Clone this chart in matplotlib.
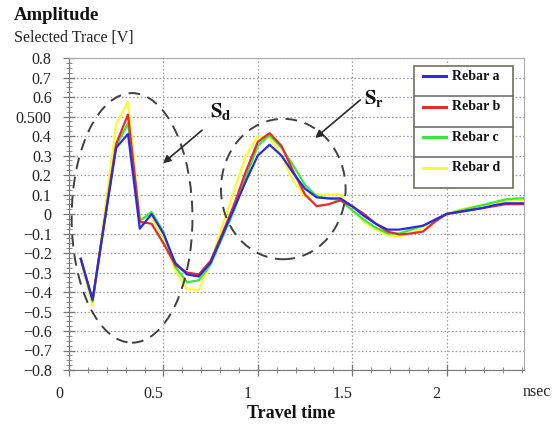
import matplotlib
matplotlib.use("Agg")
import matplotlib.pyplot as plt
import matplotlib.transforms as mtrans
from matplotlib.patches import Ellipse, Rectangle
from matplotlib.lines import Line2D
import numpy as np

plt.rcParams['font.family'] = ['Liberation Serif', 'DejaVu Serif']
plt.rcParams['mathtext.fontset'] = 'stix'

# ---------------- data ----------------
t = [0.0625, 0.125, 0.1875, 0.25, 0.3125, 0.375, 0.4375, 0.5, 0.5625, 0.625,
     0.6875, 0.75, 0.8125, 0.875, 0.9375, 1.0, 1.0625, 1.125, 1.1875, 1.25,
     1.3125, 1.375, 1.4375, 1.5, 1.5625, 1.625, 1.6875, 1.75, 1.8125, 1.875,
     1.9375, 2.0, 2.0625, 2.125, 2.1875, 2.25, 2.3125, 2.375, 2.41]

rebar_a = [-0.23, -0.44, -0.045, 0.34, 0.41, -0.075, 0.0, -0.10, -0.25, -0.31,
           -0.32, -0.25, -0.11, 0.03, 0.17, 0.30, 0.355, 0.30, 0.21, 0.13,
           0.085, 0.08, 0.08, 0.04, -0.01, -0.05, -0.08, -0.08, -0.07, -0.06,
           -0.03, 0.0, 0.01, 0.02, 0.03, 0.045, 0.055, 0.055, 0.055]
rebar_b = [-0.23, -0.44, -0.04, 0.36, 0.51, -0.04, -0.05, -0.15, -0.26, -0.30,
           -0.31, -0.24, -0.10, 0.05, 0.22, 0.37, 0.415, 0.35, 0.22, 0.10,
           0.04, 0.05, 0.07, 0.04, 0.0, -0.05, -0.09, -0.105, -0.10, -0.09,
           -0.04, 0.0, 0.01, 0.02, 0.03, 0.04, 0.05, 0.05, 0.05]
rebar_c = [-0.23, -0.45, -0.04, 0.35, 0.465, -0.035, 0.01, -0.09, -0.27, -0.35,
           -0.34, -0.26, -0.12, 0.02, 0.19, 0.35, 0.405, 0.34, 0.25, 0.15,
           0.09, 0.08, 0.07, 0.02, -0.03, -0.07, -0.10, -0.10, -0.08, -0.06,
           -0.03, 0.0, 0.015, 0.03, 0.045, 0.06, 0.075, 0.08, 0.08]
rebar_d = [-0.24, -0.47, 0.0, 0.46, 0.575, -0.02, -0.02, -0.12, -0.29, -0.385,
           -0.39, -0.25, -0.06, 0.12, 0.30, 0.40, 0.39, 0.30, 0.17, 0.09,
           0.10, 0.10, 0.10, 0.02, -0.04, -0.08, -0.11, -0.115, -0.10, -0.07,
           -0.03, 0.0, 0.02, 0.035, 0.045, 0.055, 0.065, 0.072, 0.072]

series_labels = ['Rebar a', 'Rebar b', 'Rebar c', 'Rebar d']
series_colors = ['#2a2ae6', '#e82a2a', '#3ae83a', '#fafa32']

x_ticks = [0, 0.5, 1, 1.5, 2]
x_ticklabels = ['0', '0.5', '1', '1.5', '2']
y_ticks = [0.8, 0.7, 0.6, 0.5, 0.4, 0.3, 0.2, 0.1, 0.0,
           -0.1, -0.2, -0.3, -0.4, -0.5, -0.6, -0.7, -0.8]
y_ticklabels = ['0.8', '0.7', '0.6', '0.500', '0.4', '0.3', '0.2', '0.1', '0',
                '\u22120.1', '\u22120.2', '\u22120.3', '\u22120.4', '\u22120.5',
                '\u22120.6', '\u22120.7', '\u22120.8']

# ---------------- figure ----------------
fig = plt.figure(figsize=(5.59, 4.30), dpi=100)
ax = fig.add_axes([69/559, 1-370/430, (524-69)/559, (370-58)/430])

series = [rebar_a, rebar_b, rebar_c, rebar_d]
for i in [3, 2, 1, 0]:
    ax.plot(t, series[i], color=series_colors[i], lw=1.6, zorder=3)

ax.set_xlim(0, 2.41)
ax.set_ylim(-0.8, 0.8)

ax.set_xticks(x_ticks)
ax.set_xticklabels(x_ticklabels, fontsize=11.5)
ax.set_xticks(np.arange(0, 2.41, 0.1), minor=True)
ax.set_yticks(y_ticks)
ax.set_yticklabels(y_ticklabels, fontsize=11.5)
ax.set_yticks(np.arange(-0.8, 0.801, 0.025), minor=True)

ax.tick_params(axis='both', which='major', direction='inout', length=9,
               width=0.9, color='#777777', labelcolor='#222222')
ax.tick_params(axis='both', which='minor', direction='inout', length=4,
               width=0.7, color='#888888')
ax.tick_params(axis='y', which='major', pad=8)
ax.tick_params(axis='x', which='major', pad=7)

offset = mtrans.ScaledTranslation(-10/100, 0, fig.dpi_scale_trans)
for lab in ax.get_xticklabels():
    lab.set_transform(lab.get_transform() + offset)

ax.grid(True, which='major', axis='both', linestyle=(0, (1.2, 1.8)),
        color='#999999', lw=0.9)
ax.set_axisbelow(True)
for s in ['left', 'bottom']:
    ax.spines[s].set_color('#777777')
for s in ['top', 'right']:
    ax.spines[s].set_color('#aaaaaa')

# ellipses
ell_kw = dict(fill=False, edgecolor='#404040', lw=1.4, linestyle=(0, (6, 4)), zorder=4)
ax.add_patch(Ellipse((0.334, -0.02), 0.64, 1.28, **ell_kw))
ax.add_patch(Ellipse((1.135, 0.128), 0.66, 0.72, **ell_kw))

# arrows & labels
arr = dict(arrowstyle='-|>', color='#2a2a2a', lw=1.2, mutation_scale=11,
           shrinkA=0, shrinkB=0)
ax.annotate('', xy=(0.498, 0.26), xytext=(0.705, 0.43), arrowprops=arr, zorder=5)
ax.annotate('', xy=(1.304, 0.39), xytext=(1.543, 0.585), arrowprops=arr, zorder=5)
ax.text(0.745, 0.525, r'$\mathbf{S_d}$', fontsize=15, ha='left', va='center',
        color='#111111')
ax.text(1.565, 0.59, r'$\mathbf{S_r}$', fontsize=15, ha='left', va='center',
        color='#111111')

# legend (boxed entries with separators)
lx0, lx1 = (414-69)/455, (513-69)/455
ly_top, ly_bot = (370-66)/312, (370-188)/312
ax.add_patch(Rectangle((lx0, ly_bot), lx1-lx0, ly_top-ly_bot, transform=ax.transAxes,
                       facecolor='white', edgecolor='#6f6f5a', lw=1.2, zorder=6))
row_h = (ly_top - ly_bot) / 4
for k in range(1, 4):
    yy = ly_top - k*row_h
    ax.add_line(Line2D([lx0, lx1], [yy, yy], transform=ax.transAxes,
                       color='#6f6f6f', lw=1.2, zorder=7))
for k in range(4):
    yc = ly_top - k*row_h - row_h*0.33
    ax.add_line(Line2D([(423-69)/455, (446-69)/455], [yc, yc], transform=ax.transAxes,
                       color=series_colors[k], lw=2.2, zorder=7))
    ax.text((452-69)/455, yc, series_labels[k], transform=ax.transAxes,
            fontsize=10, fontweight='bold', ha='left', va='center', zorder=8,
            color='#111111')

# titles / labels
fig.text(14/559, 1-15/430, 'Amplitude', fontsize=13.5, fontweight='bold',
         ha='left', va='center', color='#111111')
fig.text(14/559, 1-38/430, 'Selected Trace [V]', fontsize=11.5,
         ha='left', va='center', color='#222222')
fig.text(291/559, 1-413/430, 'Travel time', fontsize=13, fontweight='bold',
         ha='center', va='center', color='#111111')
fig.text(537/559, 1-392/430, 'nsec', fontsize=11.5, ha='center', va='center',
         color='#222222')

fig.savefig('out.png', dpi=100)
